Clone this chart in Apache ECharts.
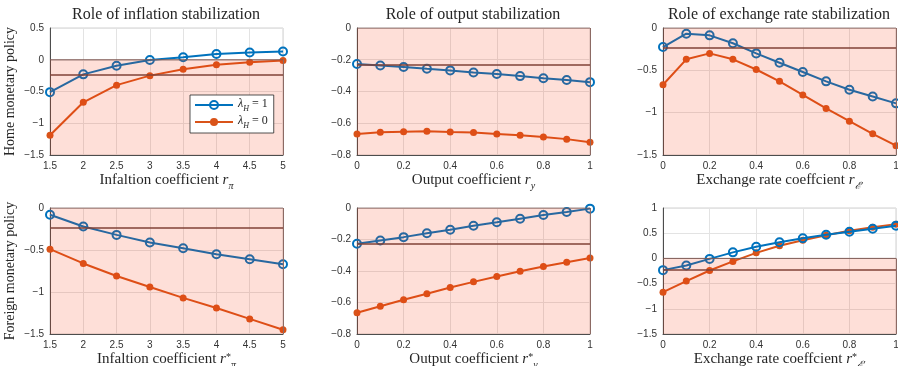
<!DOCTYPE html>
<html>
<head>
<meta charset="utf-8">
<script src="https://cdn.jsdelivr.net/npm/echarts@6/dist/echarts.min.js"></script>
<style>
  html, body { margin: 0; padding: 0; background: #fff; }
  #chart { width: 898px; height: 366px; }
</style>
</head>
<body>
<div id="chart"></div>
<script>
// x grids
const xInfl = [1.5, 2, 2.5, 3, 3.5, 4, 4.5, 5]
const xCoef = [0, 0.1, 0.2, 0.3, 0.4, 0.5, 0.6, 0.7, 0.8, 0.9, 1]

// home policy (top row)
const homeInflBlue = [-0.51, -0.23, -0.095, -0.005, 0.04, 0.09, 0.115, 0.13]
const homeInflOrange = [-1.19, -0.67, -0.40, -0.25, -0.15, -0.08, -0.04, -0.01]
const homeOutBlue = [-0.227, -0.236, -0.246, -0.257, -0.267, -0.28, -0.29, -0.303, -0.316, -0.328, -0.341]
const homeOutOrange = [-0.667, -0.657, -0.653, -0.65, -0.655, -0.659, -0.667, -0.676, -0.686, -0.70, -0.72]
const homeExBlue = [-0.225, -0.067, -0.087, -0.18, -0.30, -0.41, -0.52, -0.63, -0.73, -0.81, -0.89]
const homeExOrange = [-0.67, -0.37, -0.30, -0.37, -0.49, -0.63, -0.79, -0.95, -1.10, -1.25, -1.39]

// foreign policy (bottom row)
const forInflBlue = [-0.08, -0.22, -0.32, -0.41, -0.48, -0.55, -0.61, -0.67]
const forInflOrange = [-0.49, -0.66, -0.81, -0.94, -1.07, -1.19, -1.32, -1.45]
const forOutBlue = [-0.227, -0.206, -0.185, -0.16, -0.138, -0.113, -0.091, -0.068, -0.045, -0.025, -0.004]
const forOutOrange = [-0.665, -0.624, -0.582, -0.544, -0.505, -0.469, -0.435, -0.401, -0.372, -0.344, -0.318]
const forExBlue = [-0.233, -0.14, -0.01, 0.12, 0.23, 0.32, 0.40, 0.47, 0.53, 0.59, 0.65]
const forExOrange = [-0.67, -0.45, -0.24, -0.06, 0.11, 0.25, 0.36, 0.46, 0.55, 0.62, 0.68]

const refLevel = -0.23
const titles = ['Role of inflation stabilization', 'Role of output stabilization', 'Role of exchange rate stabilization']
const rowNames = ['Home monetary policy', 'Foreign monetary policy']

const blue = '#0072BD'
const orange = '#D95319'
const serif = 'Liberation Serif'
const sans = 'Liberation Sans'

const richStyles = {
  n: { fontFamily: serif, fontSize: 15, color: '#262626', lineHeight: 18, verticalAlign: 'top' },
  i: { fontFamily: serif, fontSize: 15, fontStyle: 'italic', color: '#262626', lineHeight: 18, verticalAlign: 'top' },
  s: { fontFamily: serif, fontSize: 10, fontStyle: 'italic', color: '#262626', lineHeight: 11, padding: [8, 0, 0, 0], verticalAlign: 'top' },
  p: { fontFamily: serif, fontSize: 10, color: '#262626', lineHeight: 10, verticalAlign: 'top' }
}

function xName(label, sub, star) {
  return '{n|' + label + ' }{i|r}' + (star ? '{p|*}' : '') + '{s|' + sub + '}'
}

const panels = [
  { x: xInfl, b: homeInflBlue, o: homeInflOrange, xr: [1.5, 5, 0.5], yr: [-1.5, 0.5, 0.5], name: xName('Infaltion coefficient', 'π', false) },
  { x: xCoef, b: homeOutBlue, o: homeOutOrange, xr: [0, 1, 0.2], yr: [-0.8, 0, 0.2], name: xName('Output coefficient', 'y', false) },
  { x: xCoef, b: homeExBlue, o: homeExOrange, xr: [0, 1, 0.2], yr: [-1.5, 0, 0.5], name: xName('Exchange rate coeffcient', 'ℰ′', false) },
  { x: xInfl, b: forInflBlue, o: forInflOrange, xr: [1.5, 5, 0.5], yr: [-1.5, 0, 0.5], name: xName('Infaltion coefficient', 'π', true) },
  { x: xCoef, b: forOutBlue, o: forOutOrange, xr: [0, 1, 0.2], yr: [-0.8, 0, 0.2], name: xName('Output coefficient', 'y', true) },
  { x: xCoef, b: forExBlue, o: forExOrange, xr: [0, 1, 0.2], yr: [-1.5, 1, 0.5], name: xName('Exchange rate coeffcient', 'ℰ′', true) }
]

const lefts = [50, 357, 663]
const tops = [28, 208]
const fmt = v => String(Math.round(v * 100) / 100).replace('-', '−')

const grid = []
const xAxis = []
const yAxis = []
const series = []

panels.forEach((p, k) => {
  const row = Math.floor(k / 3)
  const col = k % 3
  grid.push({
    left: lefts[col], top: tops[row], width: 233, height: row === 0 ? 127 : 126,
    outerBoundsMode: 'none', containLabel: false,
    show: true, borderColor: '#d0d0d0', borderWidth: 1
  })
  xAxis.push({
    gridIndex: k, type: 'value', min: p.xr[0], max: p.xr[1], interval: p.xr[2],
    name: p.name, nameLocation: 'middle', nameGap: 18,
    nameTextStyle: { rich: richStyles },
    axisLine: { onZero: false, lineStyle: { color: '#4d4d4d', width: 1 } },
    axisTick: { show: false },
    axisLabel: { formatter: fmt, color: '#333', fontFamily: sans, fontSize: 10, margin: 6 },
    splitLine: { show: true, lineStyle: { color: '#e3e3e3' } }
  })
  yAxis.push({
    gridIndex: k, type: 'value', min: p.yr[0], max: p.yr[1], interval: p.yr[2],
    name: col === 0 ? rowNames[row] : '', nameLocation: 'middle', nameGap: 33,
    nameTextStyle: { fontFamily: serif, fontSize: 14, color: '#262626' },
    axisLine: { show: true, onZero: false, lineStyle: { color: '#4d4d4d', width: 1 } },
    axisTick: { show: false },
    axisLabel: { formatter: fmt, color: '#333', fontFamily: sans, fontSize: 10, margin: 6 },
    splitLine: { show: true, lineStyle: { color: '#e3e3e3' } }
  })
  series.push({
    name: 'b', type: 'line', xAxisIndex: k, yAxisIndex: k,
    data: p.x.map((v, i) => [v, p.b[i]]),
    symbol: 'circle', symbolSize: 8, z: 3,
    lineStyle: { color: blue, width: 2 },
    itemStyle: { color: 'rgba(255,255,255,0)', borderColor: blue, borderWidth: 2 }
  })
  series.push({
    name: 'o', type: 'line', xAxisIndex: k, yAxisIndex: k,
    data: p.x.map((v, i) => [v, p.o[i]]),
    symbol: 'circle', symbolSize: 7, z: 2,
    lineStyle: { color: orange, width: 2 },
    itemStyle: { color: orange }
  })
  // shaded negative region drawn over the lines, plus reference level
  series.push({
    name: 'shade', type: 'line', xAxisIndex: k, yAxisIndex: k, z: 10, silent: true,
    data: [[p.xr[0], 0], [p.xr[1], 0]], showSymbol: false, symbol: 'none',
    lineStyle: { color: '#7e5a54', width: 1 },
    areaStyle: { origin: 'start', color: 'rgba(250,55,15,0.23)' },
    markLine: {
      silent: true, symbol: 'none', label: { show: false }, animation: false,
      data: [
        { yAxis: refLevel, lineStyle: { color: '#6a453f', width: 1.5, type: 'solid' } },
        [{ coord: [p.xr[1], 0], lineStyle: { color: '#8c6a64', width: 1, type: 'solid' } }, { coord: [p.xr[1], p.yr[0]] }]
      ]
    }
  })
})

const chart = echarts.init(document.getElementById('chart'))
chart.setOption({
  animation: false,
  backgroundColor: '#fff',
  graphic: titles.map((t, c) => ({
    type: 'text', x: lefts[c] + 116, y: 15, z: 20,
    style: { text: t, font: '16px "' + serif + '"', fill: '#262626', align: 'center', verticalAlign: 'middle' }
  })),
  legend: {
    data: ['b', 'o'], orient: 'vertical', left: 190, top: 95, z: 20,
    backgroundColor: '#fff', borderColor: '#262626', borderWidth: 0.8,
    padding: [3, 6, 3, 4], itemGap: 2, itemWidth: 38, itemHeight: 10,
    formatter: n => n === 'b' ? '{i|λ}{s|H}{n| = 1}' : '{i|λ}{s|H}{n| = 0}',
    textStyle: {
      rich: {
        n: { fontFamily: serif, fontSize: 12, color: '#262626', lineHeight: 14, verticalAlign: 'top' },
        i: { fontFamily: serif, fontSize: 12, fontStyle: 'italic', color: '#262626', lineHeight: 14, verticalAlign: 'top' },
        s: { fontFamily: serif, fontSize: 8, fontStyle: 'italic', color: '#262626', lineHeight: 9, padding: [7, 0, 0, 0], verticalAlign: 'top' }
      }
    }
  },
  grid: grid,
  xAxis: xAxis,
  yAxis: yAxis,
  series: series
})
</script>
</body>
</html>
